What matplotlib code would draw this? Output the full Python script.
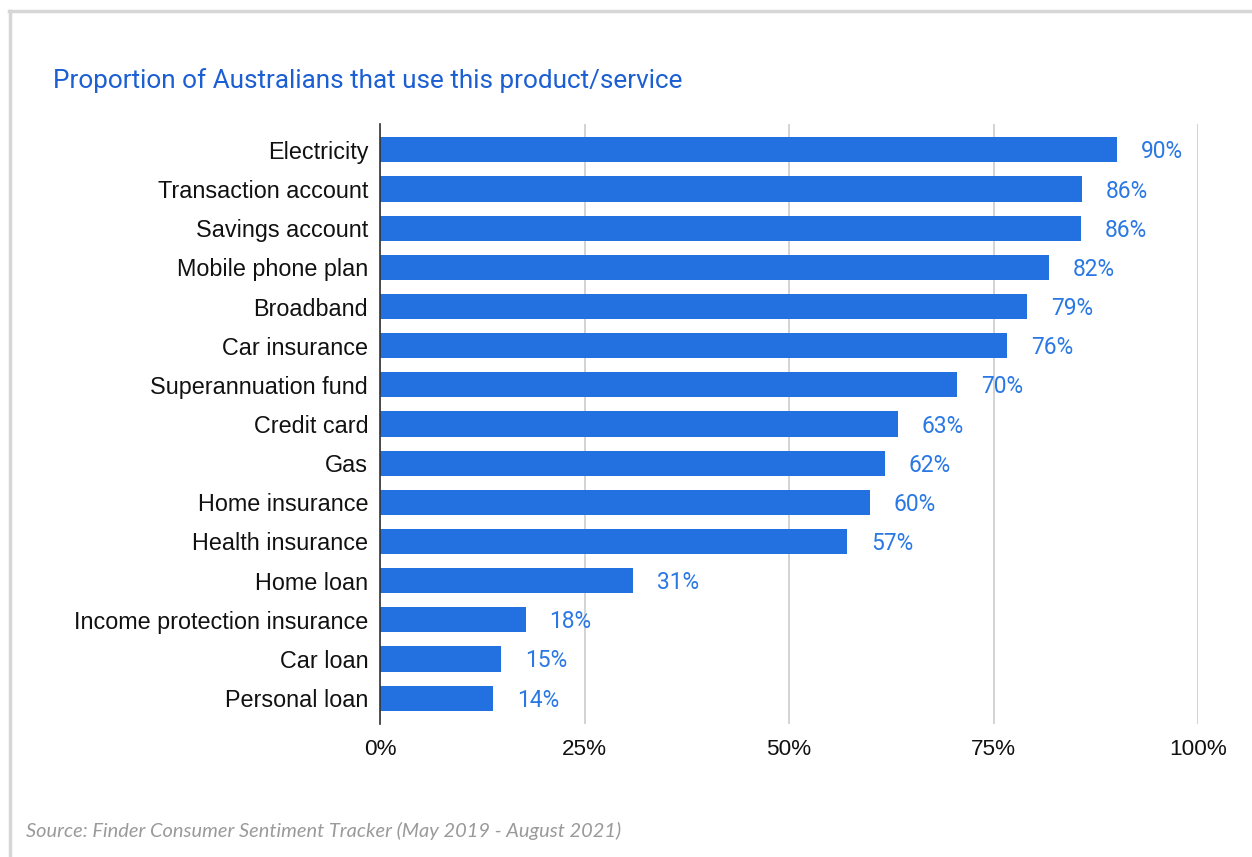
import matplotlib
matplotlib.use("Agg")
import matplotlib.pyplot as plt
from matplotlib.lines import Line2D

categories = ["Electricity", "Transaction account", "Savings account", "Mobile phone plan",
              "Broadband", "Car insurance", "Superannuation fund", "Credit card", "Gas",
              "Home insurance", "Health insurance", "Home loan",
              "Income protection insurance", "Car loan", "Personal loan"]
values = [90.1, 85.8, 85.7, 81.8, 79.1, 76.7, 70.5, 63.3, 61.7, 59.9, 57.1, 30.9, 17.8, 14.8, 13.8]
value_labels = ["90%", "86%", "86%", "82%", "79%", "76%", "70%", "63%", "62%", "60%",
                "57%", "31%", "18%", "15%", "14%"]
xticks = [0, 25, 50, 75, 100]
xtick_labels = ["0%", "25%", "50%", "75%", "100%"]
title = "Proportion of Australians that use this product/service"
source = "Source: Finder Consumer Sentiment Tracker (May 2019 - August 2021)"

W, H = 1252, 857
fig = plt.figure(figsize=(W / 100, H / 100), dpi=100)
fig.patch.set_facecolor("white")

ax = fig.add_axes([380 / W, 1 - 724 / H, (1198 - 380) / W, (724 - 124) / H])
bar_color = "#2371e0"
label_color = "#2a78e4"

y = list(range(len(categories)))
ax.barh(y, values, height=0.645, color=bar_color, zorder=3)
ax.set_ylim(len(categories) - 1 + 0.66, -0.66)
ax.set_xlim(0, 100)

for yi, v, lab in zip(y, values, value_labels):
    ax.annotate(lab, xy=(v, yi), xytext=(24, -2), textcoords="offset pixels",
                va="center", ha="left", fontsize=16.4, color=label_color, family="Roboto")

ax.set_yticks(y)
ax.set_yticklabels(categories, fontsize=16.8, family="Liberation Sans", color="#111111")
ax.set_xticks(xticks)
ax.set_xticklabels(xtick_labels, fontsize=16.2, family="Liberation Sans", color="#111111")
ax.tick_params(axis="both", length=0)
ax.tick_params(axis="y", pad=8.5)
ax.tick_params(axis="x", pad=10.5)
ax.xaxis.grid(True, color="#cccccc", linewidth=1.2, zorder=0)
ax.set_axisbelow(True)
for s in ["top", "right", "bottom"]:
    ax.spines[s].set_visible(False)
ax.spines["left"].set_color("#333333")
ax.spines["left"].set_linewidth(1.2)
ax.spines["left"].set_zorder(4)

fig.text(53 / W, 1 - 81 / H, title, fontsize=18.8, color="#1b5fd3", family="Roboto",
         va="center", ha="left")
fig.text(26 / W, 1 - 831 / H, source, fontsize=14.4, color="#9a9a9a", family="Lato",
         style="italic", va="center", ha="left")

# light gray frame (top and left edges)
fig.add_artist(Line2D([9 / W, 1], [1 - 11 / H, 1 - 11 / H], color="#d6d6d6", linewidth=2.5,
                      transform=fig.transFigure))
fig.add_artist(Line2D([10 / W, 10 / W], [1 - 11 / H, 0], color="#d6d6d6", linewidth=2.5,
                      transform=fig.transFigure))

fig.savefig("out.png", dpi=100)
